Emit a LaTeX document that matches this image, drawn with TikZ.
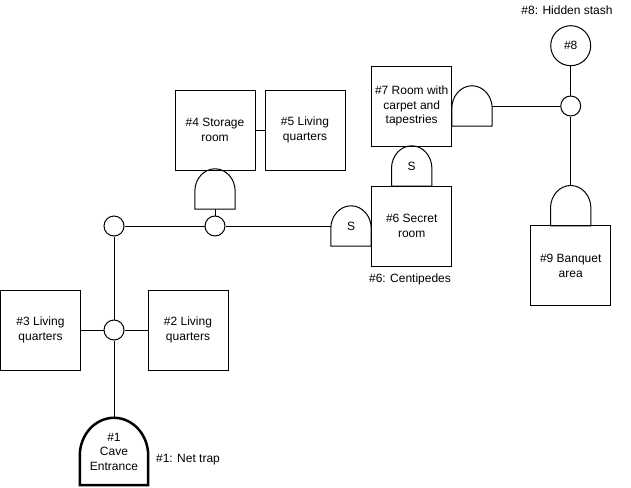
\documentclass[tikz,border=0pt]{standalone}
\usepackage{fontspec}
\setmainfont{Liberation Sans}
\usetikzlibrary{calc}
\tikzset{
  room/.style={draw, minimum width=80, minimum height=80, inner sep=2pt, align=center, line width=1pt},
  hub/.style={draw, circle, minimum size=20, inner sep=0pt, line width=1pt},
  door/.style={minimum width=40, minimum height=40, inner sep=0pt, align=center},
  note/.style={inner sep=0pt},
  link/.style={line width=1pt}
}
\newcommand{\drawdoor}[2][]{%
  \draw[line width=1pt,#1] (#2.south west) -- ($(#2.north west)!0.56!(#2.south west)$)
    .. controls ($(#2.north west)!0.25!(#2.south west)$) and ($(#2.north west)!0.45!(#2.north)$) .. (#2.north)
    .. controls ($(#2.north east)!0.45!(#2.north)$) and ($(#2.north east)!0.25!(#2.south east)$) .. ($(#2.north east)!0.56!(#2.south east)$)
    -- (#2.south east) -- cycle;}

\begin{document}
\begin{tikzpicture}[x=1pt, y=-1pt, font=\fontsize{12}{14.5}\selectfont]
\useasboundingbox (0,0) rectangle (631,487);

\node[room] (r3) at (40.5,330) {\#3 Living\\quarters};
\node[room] (r2) at (188,330) {\#2 Living\\quarters};
\node[hub] (j1) at (114,330) {};
\node[hub] (j0) at (114,226) {};
\node[door, minimum width=68, minimum height=67] (d1) at (114,451.5) {\#1\\Cave\\Entrance};
\drawdoor[line width=2.5pt]{d1}
\node[note] (n1) at (188,460) {\#1: Net trap};

\node[room] (r4) at (215,130) {\#4 Storage\\room};
\node[room] (r5) at (305,130) {\#5 Living\\quarters};
\node[door] (d4) at (215,189) {};
\drawdoor{d4}
\node[hub] (j2) at (215,226) {};

\node[door] (d6) at (351,226) {S};
\drawdoor{d6}
\node[room] (r6) at (411.7,226) {\#6 Secret\\room};
\node[note] (n6) at (410,279) {\#6: Centipedes};
\node[door] (d67) at (411.7,166) {S};
\drawdoor{d67}
\node[room] (r7) at (411.7,106) {\#7 Room with\\carpet and\\tapestries};
\node[door] (d7) at (472,106) {};
\drawdoor{d7}

\node[hub] (j3) at (570.7,106) {};
\node[hub, minimum size=40] (c8) at (570.7,45.7) {\#8};
\node[note] (n8) at (567,10) {\#8: Hidden stash};
\node[door] (d9) at (570.7,205.7) {};
\drawdoor{d9}
\node[room] (r9) at (570.7,265.7) {\#9 Banquet\\area};

\draw[link] (r3.east) -- (j1.west);
\draw[link] (j1.east) -- (r2.west);
\draw[link] (j0.south) -- (j1.north);
\draw[link] (j1.south) -- (d1.north);
\draw[link] (j0.east) -- (j2.west);
\draw[link] (j2.east) -- (d6.west);
\draw[link] (j2.north) -- (d4.south);
\draw[link] (r4.east) -- (r5.west);
\draw[link] (d7.east) -- (j3.west);
\draw[link] (c8.south) -- (j3.north);
\draw[link] (j3.south) -- (d9.north);
\end{tikzpicture}
\end{document}
